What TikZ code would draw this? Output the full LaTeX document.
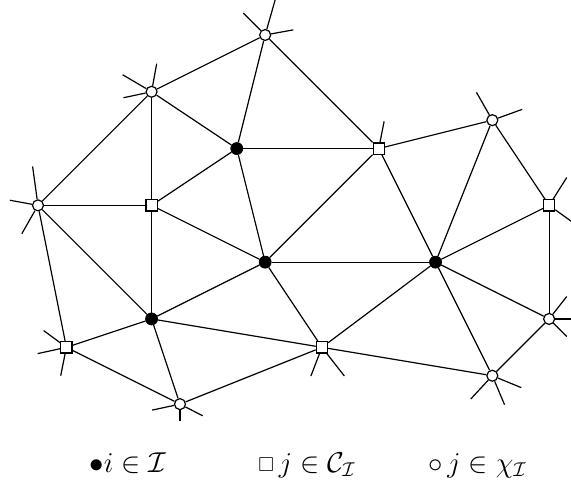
\documentclass[tikz,border=0pt]{standalone}
\usepackage{amssymb}
\usepackage{graphicx}

\begin{document}
\begin{tikzpicture}[
    x=0.5cm, y=-0.5cm,
    link/.style={line width=0.6pt},
    inner/.style={circle, draw, fill=black, minimum size=6pt, inner sep=0pt},
    cand/.style={rectangle, draw, fill=white, minimum size=5.6pt, inner sep=0pt, line width=0.6pt},
    extra/.style={circle, draw, fill=white, minimum size=5.5pt, inner sep=0pt, line width=0.6pt},
    legend/.style={anchor=base west, inner sep=0pt, font=\Large}
]
\useasboundingbox (-1.338,-1.232) rectangle (18.77,15.99);

% Interior nodes
\node[inner] (i1) at (7,4) {};
\node[inner] (i2) at (8,8) {};
\node[inner] (i3) at (4,10) {};
\node[inner] (i4) at (14,8) {};

% Coarse neighbours
\node[cand] (c1) at (12,4) {};
\node[cand] (c2) at (4,6) {};
\node[cand] (c3) at (18,6) {};
\node[cand] (c4) at (1,11) {};
\node[cand] (c5) at (10,11) {};

% Remaining neighbours
\node[extra] (x1) at (8,0) {};
\node[extra] (x2) at (4,2) {};
\node[extra] (x3) at (0,6) {};
\node[extra] (x4) at (16,3) {};
\node[extra] (x5) at (18,10) {};
\node[extra] (x6) at (16,12) {};
\node[extra] (x7) at (5,13) {};

% Mesh edges
\foreach \a/\b in {x1/x2, x1/i1, x1/c1, x2/x3, x2/c2, x2/i1, i1/c1, i1/c2, i1/i2,
    x3/c2, x3/i3, x3/c4, c2/i2, c2/i3, c1/i2, c1/x4, c1/i4, x4/i4, x4/c3, c3/x5,
    i2/i4, i2/i3, i2/c5, i3/c4, i3/c5, i3/x7, c4/x7, x7/c5, c5/i4, c5/x6,
    i4/x6, i4/x5, i4/c3, x6/x5}
    \draw[link] (\a) -- (\b);

% Edges leaving the patch
\foreach \n/\dx/\dy [count=\k] in {x1/-0.77/-0.77, x1/0.35/-1.23, x1/0.99/-0.18,
    x2/-1.02/-0.60, x2/0.18/-0.99, x2/-0.99/0.21,
    x3/-0.19/-1.37, x3/-0.99/-0.18, x3/-0.57/1.0,
    c4/-0.8/-0.59, c4/-1.01/0.22, c4/-0.2/1.0,
    x7/-0.98/0.21, x7/0.8/0.41, x7/0/0.59,
    c5/-0.39/1.01, c5/0.79/1.01,
    x6/-0.76/0.82, x6/0.43/1.02, x6/1.02/0.42,
    x5/0.62/-0.79, x5/1.0/0, x5/0.62/0.62,
    c3/0.62/-0.98, c3/1.0/0.72,
    x4/-0.56/-0.98, x4/1.05/-0.38,
    c1/0.19/-0.96}
{
    \path (\n) ++(\dx,\dy) coordinate (t\k);
    \draw[link] (\n) -- (t\k);
}

% Legend
\node[legend] (lgi) at (1.80,15.39) {$\bullet i \in \mathcal{I}$};
\node[legend] (lgc) at (7.75,15.39) {$\vcenter{\hbox{\scalebox{0.7}{$\square$}}}\,j \in \mathcal{C}_{\mathcal{I}}$};
\node[legend] (lgx) at (13.73,15.39) {$\circ\, j \in \chi_{\mathcal{I}}$};

\end{tikzpicture}
\end{document}
